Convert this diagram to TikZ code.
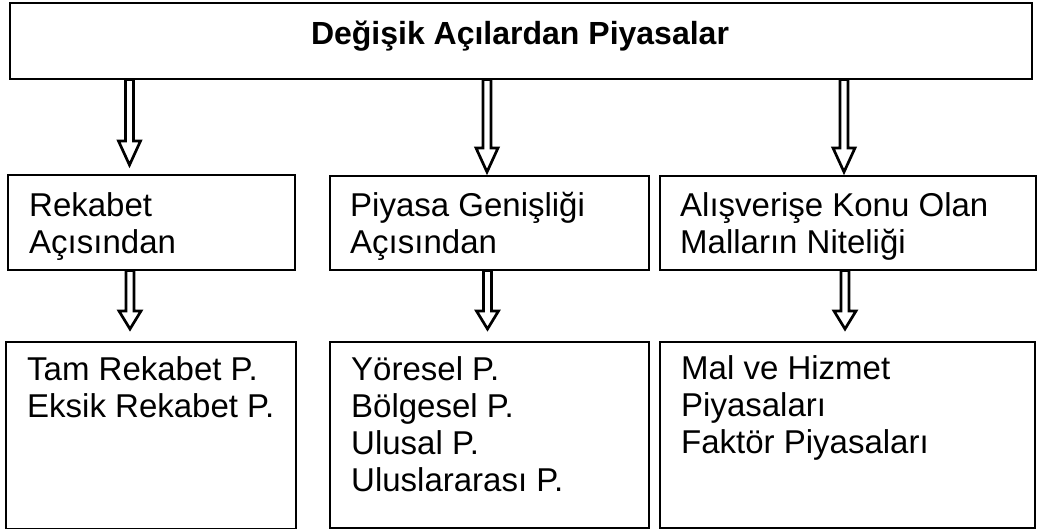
\documentclass[tikz,border=0pt]{standalone}
\usepackage{fontspec}
\setmainfont{Liberation Sans}
\usetikzlibrary{calc}
\tikzset{
  box/.style={draw=black, line width=1.6pt, rectangle, inner sep=0pt, anchor=north west},
  txt/.style={font=\fontsize{33}{37}\selectfont, align=left, inner sep=0pt, anchor=base west},
  ttl/.style={font=\fontsize{32}{37}\selectfont\bfseries, inner sep=0pt, anchor=base},
  harrow/.style={draw=black, fill=white, line width=2.7pt, line join=miter}
}
% #1 from node, #2 to node, #3 x centre, #4 gap above target, #5 head length
\newcommand\hollowarrow[5]{%
  \draw[harrow] let \p1=(#1.south), \p2=(#2.north) in
    (#3pt-4pt,\y1) -- (#3pt-4pt,\y2+#4pt+#5pt) -- (#3pt-11pt,\y2+#4pt+#5pt)
    -- (#3pt,\y2+#4pt) -- (#3pt+11pt,\y2+#4pt+#5pt) -- (#3pt+4pt,\y2+#4pt+#5pt)
    -- (#3pt+4pt,\y1) -- cycle;}
\begin{document}
\begin{tikzpicture}[x=1pt,y=1pt]
\useasboundingbox (0,0) rectangle (1040,529);
% boxes
\node[box, minimum width=1022pt, minimum height=76pt] (top) at (9,527) {};
\node[box, minimum width=287pt, minimum height=95pt] (m1) at (7,355) {};
\node[box, minimum width=319pt, minimum height=94pt] (m2) at (329,354) {};
\node[box, minimum width=376pt, minimum height=94pt] (m3) at (659,354) {};
\node[box, minimum width=290pt, minimum height=187pt] (b1) at (5,188) {};
\node[box, minimum width=319pt, minimum height=186pt] (b2) at (329,188) {};
\node[box, minimum width=375pt, minimum height=186pt] (b3) at (659,188) {};
% texts (anchor = baseline of the last line)
\node[ttl] (tt) at (520,484) {Değişik Açılardan Piyasalar};
\node[txt] (m1t) at (29,275) {Rekabet\\Açısından};
\node[txt] (m2t) at (350,275) {Piyasa Genişliği\\Açısından};
\node[txt] (m3t) at (680,275) {Alışverişe Konu Olan\\Malların Niteliği};
\node[txt] (b1t) at (27,111) {Tam Rekabet P.\\Eksik Rekabet P.};
\node[txt] (b2t) at (351,37) {Yöresel P.\\Bölgesel P.\\Ulusal P.\\Uluslararası P.};
\node[txt] (b3t) at (681,75) {Mal ve Hizmet\\Piyasaları\\Faktör Piyasaları};
% arrows
\hollowarrow{top}{m1}{129.5}{9}{24}
\hollowarrow{top}{m2}{487}{3}{24}
\hollowarrow{top}{m3}{844}{3}{24}
\hollowarrow{m1}{b1}{130}{12}{18}
\hollowarrow{m2}{b2}{487.5}{12}{18}
\hollowarrow{m3}{b3}{845}{12}{18}
\end{tikzpicture}
\end{document}
